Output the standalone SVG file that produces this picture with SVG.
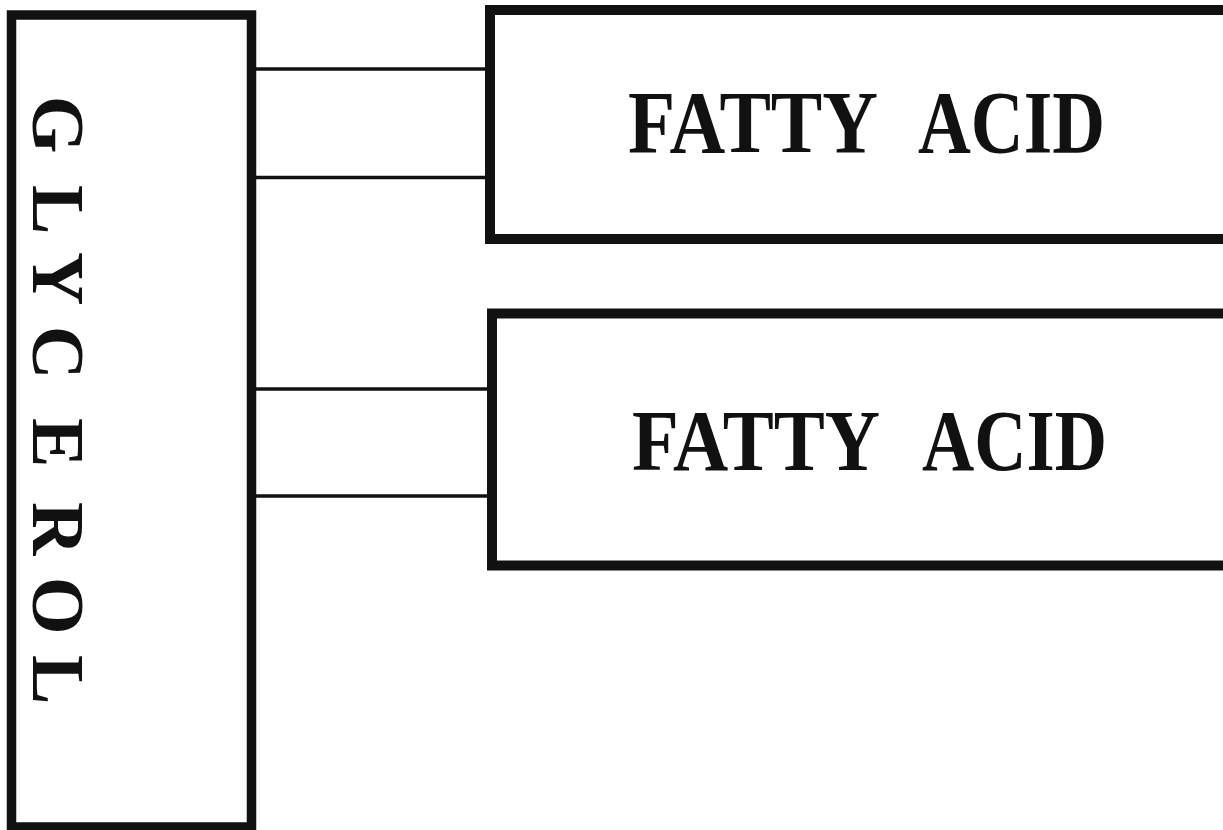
<svg xmlns="http://www.w3.org/2000/svg" width="1223" height="830" viewBox="0 0 1223 830">
<style>
.box{fill:#fff;stroke:#111;stroke-width:10}
.conn{stroke:#111;stroke-width:3.3;fill:none}
.lbl{font-weight:700;fill:#111}
</style>
<rect width="1223" height="830" fill="#fff"/>
<g id="connectors">
<line class="conn" x1="252" y1="69" x2="492" y2="69"/>
<line class="conn" x1="252" y1="177.5" x2="492" y2="177.5"/>
<line class="conn" x1="252" y1="389" x2="494" y2="389"/>
<line class="conn" x1="252" y1="496" x2="494" y2="496"/>
</g>
<g id="glycerol">
<rect class="box" x="11.5" y="15" width="240" height="812" style="stroke-width:9.5"/>
<text class="lbl" font-family="Liberation Serif, Times New Roman, serif" font-size="74" transform="rotate(90)" x="96 185 252 326 418 502 577 655" y="-33">GLYCEROL</text>
</g>
<g id="fatty-acid-1">
<rect class="box" x="490" y="10" width="800" height="229"/>
<text class="lbl" font-family="Liberation Serif, Times New Roman, serif" font-size="88" y="152"><tspan x="628" textLength="250" lengthAdjust="spacingAndGlyphs">FATTY</tspan><tspan x="918" textLength="187" lengthAdjust="spacingAndGlyphs">ACID</tspan></text>
</g>
<g id="fatty-acid-2">
<rect class="box" x="492" y="313.5" width="800" height="252"/>
<text class="lbl" font-family="Liberation Serif, Times New Roman, serif" font-size="87" y="470"><tspan x="632" textLength="248" lengthAdjust="spacingAndGlyphs">FATTY</tspan><tspan x="922" textLength="185" lengthAdjust="spacingAndGlyphs">ACID</tspan></text>
</g>
</svg>
